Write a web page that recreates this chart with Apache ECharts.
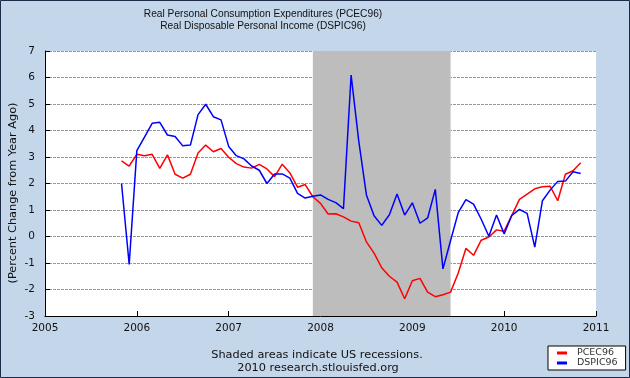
<!DOCTYPE html>
<html>
<head>
<meta charset="utf-8">
<script src="https://cdn.jsdelivr.net/npm/echarts@6/dist/echarts.min.js"></script>
<style>
html,body{margin:0;padding:0;background:#c3d6ea;}
#c{width:630px;height:378px;}
</style>
</head>
<body>
<div id="c"></div>
<script>
// Monthly observations, Nov 2005 .. Nov 2010
const months = [
 '2005-11','2005-12',
 '2006-01','2006-02','2006-03','2006-04','2006-05','2006-06','2006-07','2006-08','2006-09','2006-10','2006-11','2006-12',
 '2007-01','2007-02','2007-03','2007-04','2007-05','2007-06','2007-07','2007-08','2007-09','2007-10','2007-11','2007-12',
 '2008-01','2008-02','2008-03','2008-04','2008-05','2008-06','2008-07','2008-08','2008-09','2008-10','2008-11','2008-12',
 '2009-01','2009-02','2009-03','2009-04','2009-05','2009-06','2009-07','2009-08','2009-09','2009-10','2009-11','2009-12',
 '2010-01','2010-02','2010-03','2010-04','2010-05','2010-06','2010-07','2010-08','2010-09','2010-10','2010-11'
];
const pcec96 = [
 2.85, 2.66,
 3.10, 3.05, 3.10, 2.57, 3.08, 2.35, 2.20, 2.35, 3.15, 3.45, 3.20, 3.32,
 2.99, 2.75, 2.62, 2.58, 2.72, 2.55, 2.26, 2.73, 2.40, 1.86, 1.96, 1.50,
 1.25, 0.85, 0.86, 0.74, 0.58, 0.52, -0.20, -0.63, -1.18, -1.50, -1.72, -2.35,
 -1.67, -1.58, -2.10, -2.27, -2.20, -2.10, -1.38, -0.45, -0.71, -0.14, -0.02, 0.25,
 0.20, 0.80, 1.40, 1.60, 1.80, 1.88, 1.90, 1.35, 2.35, 2.48, 2.78
];
const dspic96 = [
 2.00, -1.05,
 3.24, 3.75, 4.27, 4.31, 3.83, 3.77, 3.42, 3.45, 4.60, 4.99, 4.52, 4.40,
 3.40, 3.05, 2.93, 2.66, 2.50, 2.00, 2.36, 2.36, 2.20, 1.63, 1.45, 1.52,
 1.57, 1.40, 1.28, 1.05, 6.09, 3.60, 1.57, 0.78, 0.42, 0.82, 1.60, 0.81,
 1.27, 0.50, 0.70, 1.78, -1.22, -0.15, 0.90, 1.39, 1.22, 0.65, 0.01, 0.81,
 0.10, 0.80, 1.02, 0.87, -0.40, 1.35, 1.75, 2.08, 2.09, 2.44, 2.38
];
const yearTicks = [2005, 2006, 2007, 2008, 2009, 2010, 2011];
const yTicks = [-3, -2, -1, 0, 1, 2, 3, 4, 5, 6, 7];
const recession = ['2007-12', '2009-06'];
const titleLines = ['Real Personal Consumption Expenditures (PCEC96)', 'Real Disposable Personal Income (DSPIC96)'];
const yName = '(Percent Change from Year Ago)';
const footLines = ['Shaded areas indicate US recessions.', '2010 research.stlouisfed.org'];

function toX(m) { const p = m.split('-'); return +p[0] + (+p[1] - 1) / 12; }
const pairs = arr => months.map((m, i) => [toX(m), arr[i]]);

const FONT = 'DejaVu Sans';
const chart = echarts.init(document.getElementById('c'));
chart.setOption({
  backgroundColor: '#c3d6ea',
  animation: false,
  grid: { left: 45, right: 34, top: 51, bottom: 62, show: true, backgroundColor: '#ffffff', borderWidth: 0 },
  xAxis: {
    type: 'value', min: yearTicks[0], max: yearTicks[yearTicks.length - 1], interval: 1,
    axisLine: { onZero: false, lineStyle: { color: '#000', width: 1 } },
    axisTick: { inside: true, length: 5, lineStyle: { color: '#000' } },
    axisLabel: { color: '#111', fontFamily: FONT, fontSize: 10.5, margin: 7, formatter: v => String(v) },
    splitLine: { show: false }
  },
  yAxis: {
    type: 'value', min: yTicks[0], max: yTicks[yTicks.length - 1], interval: 1,
    axisLine: { show: true, onZero: false, lineStyle: { color: '#000', width: 1 } },
    axisTick: { show: true, inside: true, length: 5, lineStyle: { color: '#000' } },
    axisLabel: { color: '#111', fontFamily: FONT, fontSize: 10.5, margin: 10 },
    splitLine: { show: true, lineStyle: { color: '#999', type: [3, 1], width: 1 } }
  },
  legend: {
    orient: 'vertical', left: 548, top: 346,
    data: [{ name: 'PCEC96', icon: 'rect' }, { name: 'DSPIC96', icon: 'rect' }],
    itemWidth: 10, itemHeight: 3, itemGap: 0,
    padding: [2, 8, 2, 9],
    backgroundColor: '#ffffff', borderColor: '#000', borderWidth: 1, borderRadius: 0,
    textStyle: { fontFamily: FONT, fontSize: 9.5, color: '#333', padding: [0, 0, 0, 5] }
  },
  graphic: [
    { type: 'text', x: 263, y: 14, style: { text: titleLines[0], font: '10.2px "Liberation Sans"', fill: '#111', align: 'center', verticalAlign: 'middle' } },
    { type: 'text', x: 263, y: 26, style: { text: titleLines[1], font: '10.2px "Liberation Sans"', fill: '#111', align: 'center', verticalAlign: 'middle' } },
    { type: 'text', x: 13, y: 193, rotation: Math.PI / 2, style: { text: yName, font: '11.3px "DejaVu Sans"', fill: '#111', align: 'center', verticalAlign: 'middle' } },
    { type: 'text', x: 317, y: 355, style: { text: footLines[0], font: '11.3px "DejaVu Sans"', fill: '#111', align: 'center', verticalAlign: 'middle' } },
    { type: 'text', x: 318, y: 368, style: { text: footLines[1], font: '11.3px "DejaVu Sans"', fill: '#111', align: 'center', verticalAlign: 'middle' } },
    { type: 'rect', shape: { x: 0.5, y: 0.5, width: 629, height: 377 }, style: { fill: 'none', stroke: '#1d2a48', lineWidth: 1 }, z: 100 }
  ],
  series: [
    {
      name: 'PCEC96', type: 'line', data: pairs(pcec96), showSymbol: false, symbol: 'none',
      lineStyle: { color: '#ff0000', width: 1.5 }, itemStyle: { color: '#ff0000' }, z: 3,
      markArea: {
        silent: true,
        itemStyle: { color: '#bdbdbd' },
        data: [[{ xAxis: toX(recession[0]) }, { xAxis: toX(recession[1]) }]]
      }
    },
    {
      name: 'DSPIC96', type: 'line', data: pairs(dspic96), showSymbol: false, symbol: 'none',
      lineStyle: { color: '#0000ff', width: 1.5 }, itemStyle: { color: '#0000ff' }, z: 4
    }
  ]
});
</script>
</body>
</html>
